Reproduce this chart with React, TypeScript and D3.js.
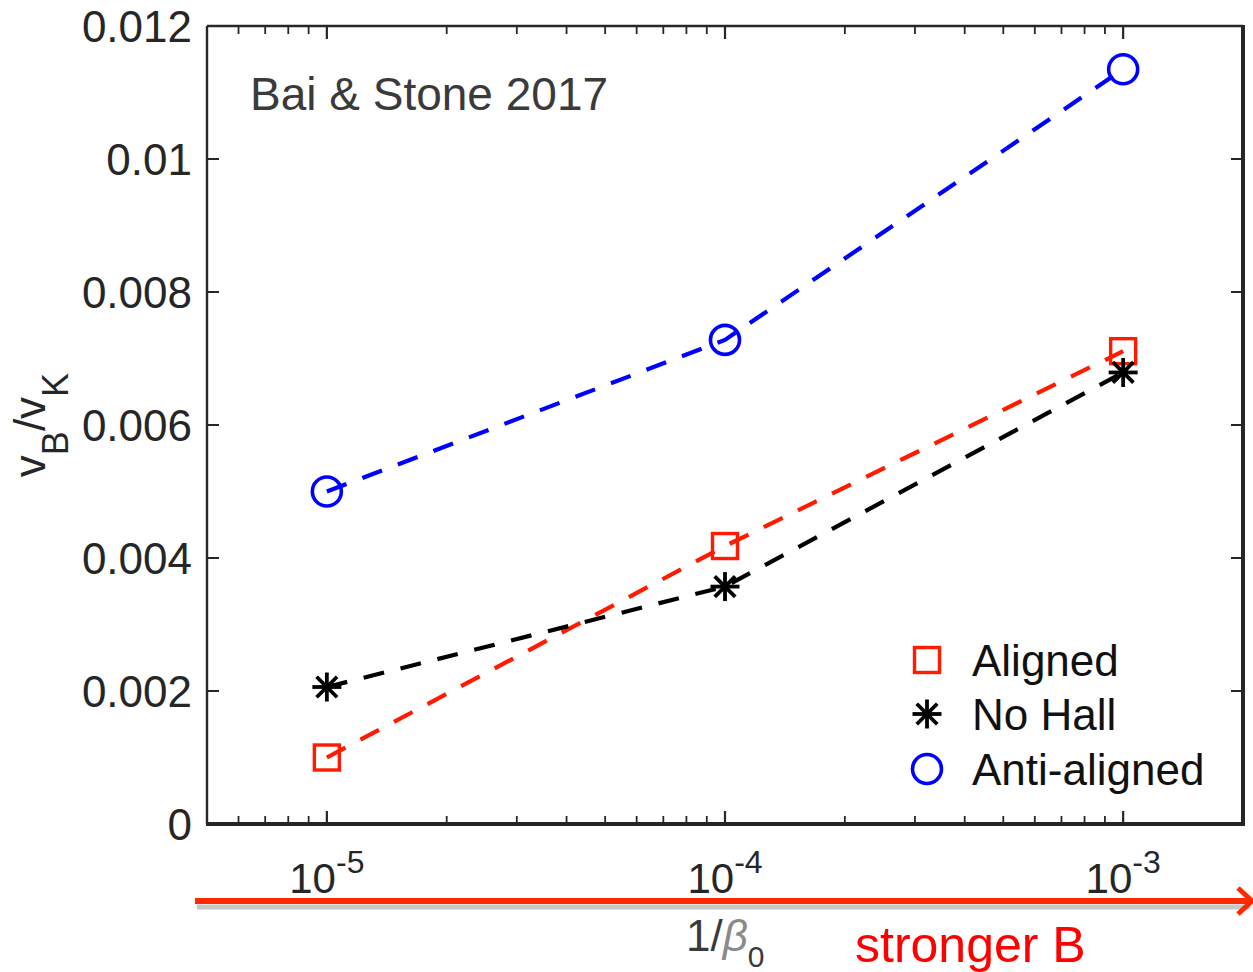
import React from "react";
import * as d3 from "d3";

// 1/beta_0 values at which the runs were made
const invBeta: number[] = [1e-5, 1e-4, 1e-3];
// wind speed v_B / v_K for each field configuration
const aligned: number[] = [0.001, 0.00418, 0.00711];
const noHall: number[] = [0.00206, 0.00357, 0.00679];
const antiAligned: number[] = [0.005, 0.00728, 0.01135];

const yTickValues: number[] = [0, 0.002, 0.004, 0.006, 0.008, 0.01, 0.012];
const yTickLabels: string[] = ["0", "0.002", "0.004", "0.006", "0.008", "0.01", "0.012"];
const xTickExponents: number[] = [-5, -4, -3];

const seriesNames: string[] = ["Aligned", "No Hall", "Anti-aligned"];
const seriesColors: string[] = ["#ff1a00", "#000000", "#0000ff"];
const seriesMarkers: string[] = ["square", "star", "circle"];

const W = 1253;
const H = 972;
const M = { left: 207, right: 1243, top: 26, bottom: 824 };
const FONT = "'Liberation Sans', Arial, Helvetica, sans-serif";
const AXIS = "#262626";

function Marker({ kind, x, y, color }: { kind: string; x: number; y: number; color: string }) {
  if (kind === "square") {
    const s = 25;
    return <rect x={x - s / 2} y={y - s / 2} width={s} height={s} fill="none" stroke={color} strokeWidth={3.4} />;
  }
  if (kind === "circle") {
    return <circle cx={x} cy={y} r={14.5} fill="none" stroke={color} strokeWidth={3.6} />;
  }
  const r = 14.5;
  const d = r * Math.SQRT1_2;
  return (
    <g stroke={color} strokeWidth={3.8} strokeLinecap="butt">
      <line x1={x - r} y1={y} x2={x + r} y2={y} />
      <line x1={x} y1={y - r} x2={x} y2={y + r} />
      <line x1={x - d} y1={y - d} x2={x + d} y2={y + d} />
      <line x1={x - d} y1={y + d} x2={x + d} y2={y - d} />
    </g>
  );
}

export default function App() {
  const x = d3.scaleLog().domain([5e-6, 2e-3]).range([M.left, M.right]);
  const y = d3.scaleLinear().domain([0, 0.012]).range([M.bottom, M.top]);

  const series = [aligned, noHall, antiAligned];
  const line = d3
    .line<number>()
    .x((_, i) => x(invBeta[i]))
    .y((v) => y(v));

  // minor and major log ticks along the x axis
  const xTicks: { v: number; major: boolean }[] = [];
  for (let e = -6; e <= -3; e++) {
    for (let m = 1; m <= 9; m++) {
      const v = m * Math.pow(10, e);
      if (v >= 5e-6 && v <= 2e-3) xTicks.push({ v, major: m === 1 });
    }
  }

  const legendX = 927;
  const legendRows = [660, 714, 769];

  return (
    <div style={{ position: "absolute", left: 0, top: 0 }}>
      <svg width={W} height={H} viewBox={`0 0 ${W} ${H}`} style={{ display: "block", background: "#fff" }}>
        {/* dashed connecting lines */}
        {series.map((s, k) => (
          <path
            key={`l${k}`}
            d={line(s) || ""}
            fill="none"
            stroke={seriesColors[k]}
            strokeWidth={4.2}
            strokeDasharray="21 17"
          />
        ))}
        {/* markers */}
        {series.map((s, k) =>
          s.map((v, i) => (
            <Marker key={`m${k}-${i}`} kind={seriesMarkers[k]} x={x(invBeta[i])} y={y(v)} color={seriesColors[k]} />
          ))
        )}

        {/* axes box */}
        <line x1={M.left} y1={M.top} x2={M.left} y2={M.bottom} stroke={AXIS} strokeWidth={2.4} />
        <line x1={M.left} y1={M.top} x2={M.right} y2={M.top} stroke={AXIS} strokeWidth={2.4} />
        <line x1={M.right} y1={M.top - 1} x2={M.right} y2={M.bottom + 2} stroke={AXIS} strokeWidth={4} />
        <line x1={M.left - 1} y1={M.bottom} x2={M.right + 2} y2={M.bottom} stroke={AXIS} strokeWidth={4} />

        {/* x ticks, bottom and top */}
        {xTicks.map((t, i) => {
          const len = t.major ? 13 : 8;
          const px = x(t.v);
          return (
            <g key={`xt${i}`} stroke={AXIS} strokeWidth={t.major ? 2.2 : 1.8}>
              <line x1={px} y1={M.bottom} x2={px} y2={M.bottom - len} />
              <line x1={px} y1={M.top} x2={px} y2={M.top + len} />
            </g>
          );
        })}
        {/* y ticks, left and right */}
        {yTickValues.map((v, i) => (
          <g key={`yt${i}`} stroke={AXIS} strokeWidth={2}>
            <line x1={M.left} y1={y(v)} x2={M.left + 12} y2={y(v)} />
            <line x1={M.right} y1={y(v)} x2={M.right - 12} y2={y(v)} />
          </g>
        ))}

        {/* y tick labels */}
        {yTickValues.map((v, i) => (
          <text
            key={`yl${i}`}
            x={192}
            y={y(v) + 16}
            textAnchor="end"
            fontFamily={FONT}
            fontSize={44}
            fill={AXIS}
          >
            {yTickLabels[i]}
          </text>
        ))}
        {/* x tick labels, powers of ten */}
        {xTickExponents.map((e, i) => (
          <text key={`xl${i}`} x={x(Math.pow(10, e))} y={893} textAnchor="middle" fontFamily={FONT} fontSize={42} fill={AXIS}>
            10
            <tspan dy={-20} fontSize={32}>
              {String(e)}
            </tspan>
          </text>
        ))}

        {/* y axis label */}
        <text
          transform="translate(45,425) rotate(-90)"
          textAnchor="middle"
          fontFamily={FONT}
          fontSize={44}
          fill={AXIS}
        >
          v<tspan dy={23} fontSize={36}>B</tspan>
          <tspan dy={-23}>/v</tspan>
          <tspan dy={23} fontSize={36}>K</tspan>
        </text>

        {/* x axis label */}
        <text x={686} y={951} fontFamily={FONT} fontSize={44} fill="#3a3a3a">
          1/<tspan fontStyle="italic" fill="#8a8a8a">β</tspan>
          <tspan dy={16} fontSize={30}>0</tspan>
        </text>

        {/* annotation */}
        <text x={250} y={110} fontFamily={FONT} fontSize={46} fill="#3a3a3a">
          Bai &amp; Stone 2017
        </text>

        {/* legend */}
        {seriesNames.map((name, k) => (
          <g key={`lg${k}`}>
            <Marker kind={seriesMarkers[k]} x={legendX} y={legendRows[k]} color={seriesColors[k]} />
            <text x={972} y={legendRows[k] + 16} fontFamily={FONT} fontSize={44} fill="#111">
              {name}
            </text>
          </g>
        ))}

        {/* red arrow toward stronger field, with its drop shadow */}
        <line x1={197} y1={907} x2={1250} y2={907} stroke="#c8c8c8" strokeWidth={5} />
        <line x1={195} y1={901} x2={1250} y2={901} stroke="#ff2a00" strokeWidth={6} />
        <polyline points="1238,888 1252,901 1238,914" fill="none" stroke="#ff2a00" strokeWidth={5} />
        <text x={855} y={962} fontFamily={FONT} fontSize={50} fill="#ff0000">
          stronger B
        </text>
      </svg>
    </div>
  );
}
